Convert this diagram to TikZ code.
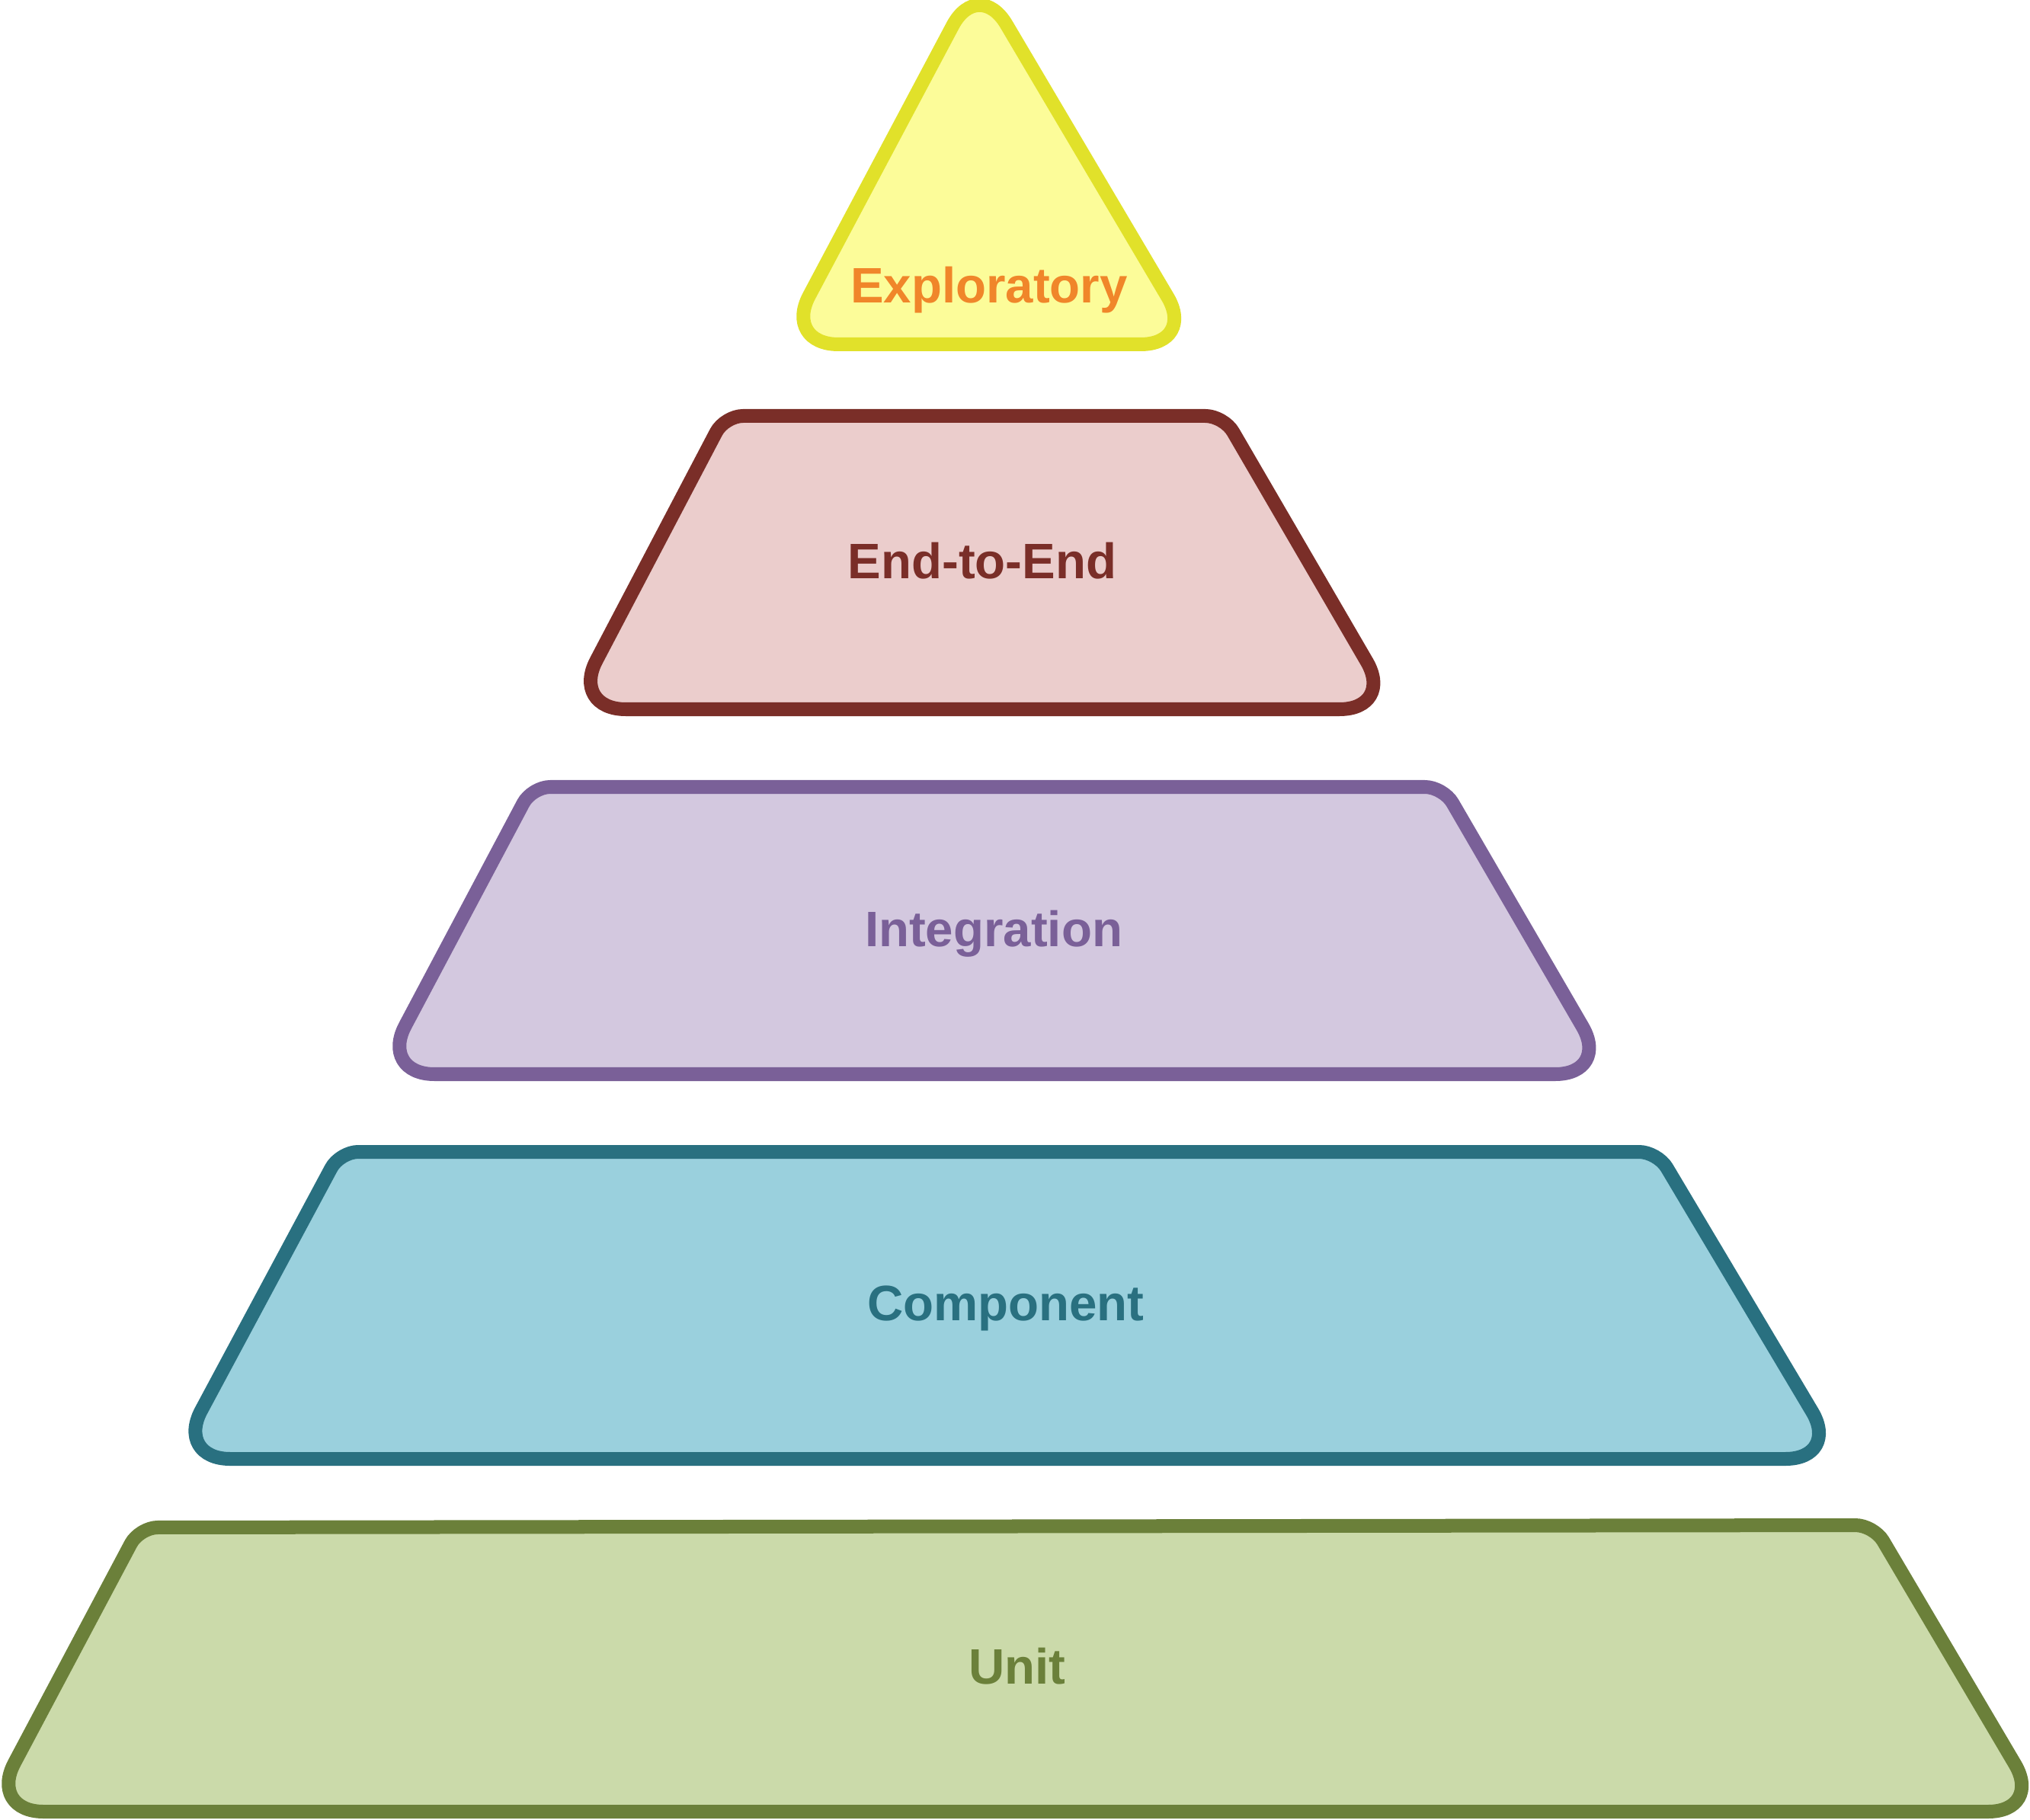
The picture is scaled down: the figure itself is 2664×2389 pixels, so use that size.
\documentclass[tikz,border=0pt]{standalone}
\usepackage{fontspec}
\setmainfont{Liberation Sans}

\definecolor{explFill}{HTML}{FCFC99}
\definecolor{explDraw}{HTML}{E1E12A}
\definecolor{explText}{HTML}{F0862A}
\definecolor{etoeFill}{HTML}{EBCDCC}
\definecolor{etoeDraw}{HTML}{7A2E28}
\definecolor{integFill}{HTML}{D3C8DF}
\definecolor{integDraw}{HTML}{7A6098}
\definecolor{compFill}{HTML}{9AD0DD}
\definecolor{compDraw}{HTML}{297080}
\definecolor{unitFill}{HTML}{CBDAAA}
\definecolor{unitDraw}{HTML}{6B803A}

\tikzset{
  layer/.style={line width=0.18cm, line join=round},
  layertext/.style={font=\bfseries\fontsize{18.6pt}{22pt}\selectfont, anchor=base}
}

\begin{document}
\begin{tikzpicture}[x=0.01cm, y=-0.01cm]
\useasboundingbox (0,0) rectangle (2664,2389);

% The top
\filldraw[layer, draw=explDraw, fill=explFill] (1298,452) [rounded corners=0.72cm] -- (1028,452) -- (1284,-30) -- (1569,452) -- cycle;
\node[layertext, text=explText] (expl) at (1298,398) {Exploratory};

% End-to-End
\filldraw[layer, draw=etoeDraw, fill=etoeFill] (1290,931) [rounded corners=0.72cm] -- (749,931) [rounded corners=0.24cm] -- (951,546) -- (1606,546) [rounded corners=0.72cm] -- (1830,931) -- cycle;
\node[layertext, text=etoeDraw] (etoe) at (1289,760) {End-to-End};

% Integration
\filldraw[layer, draw=integDraw, fill=integFill] (1305,1410) [rounded corners=0.72cm] -- (498,1410) [rounded corners=0.24cm] -- (698,1033) -- (1894,1033) [rounded corners=0.72cm] -- (2113,1410) -- cycle;
\node[layertext, text=integDraw] (integ) at (1304,1242) {Integration};

% Component
\filldraw[layer, draw=compDraw, fill=compFill] (1322,1915) [rounded corners=0.72cm] -- (230,1915) [rounded corners=0.24cm] -- (446,1512) -- (2175,1512) [rounded corners=0.72cm] -- (2415,1915) -- cycle;
\node[layertext, text=compDraw] (comp) at (1320,1733) {Component};

% The base
\filldraw[layer, draw=unitDraw, fill=unitFill] (1333,2378) [rounded corners=0.72cm] -- (-15,2378) [rounded corners=0.24cm] -- (183,2005) -- (2459,2002) [rounded corners=0.72cm] -- (2681,2378) -- cycle;
\node[layertext, text=unitDraw] (unit) at (1335,2210) {Unit};

\end{tikzpicture}
\end{document}
